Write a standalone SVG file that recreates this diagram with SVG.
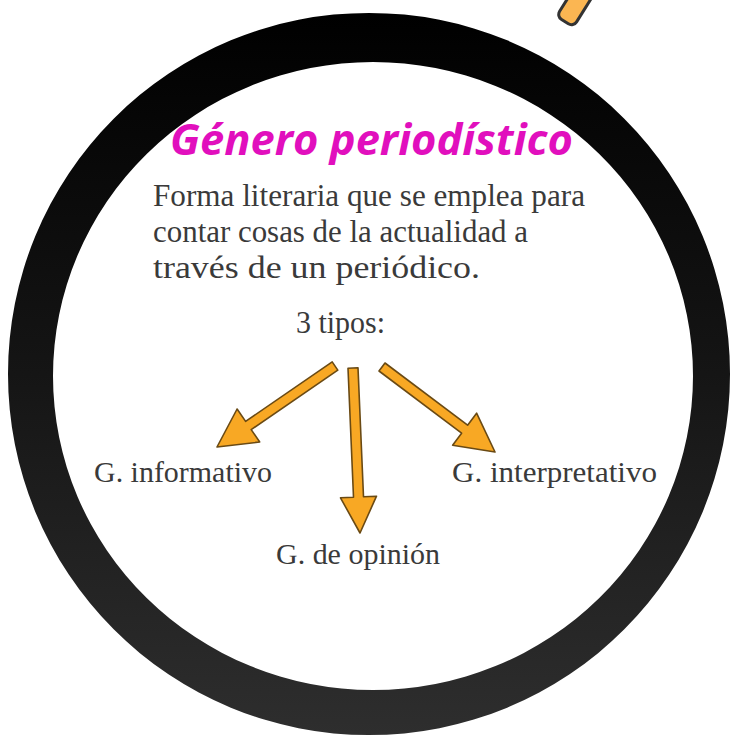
<svg xmlns="http://www.w3.org/2000/svg" width="732" height="736" viewBox="0 0 732 736">
  <defs>
    <linearGradient id="ringGrad" x1="0" y1="0" x2="0" y2="1">
      <stop offset="0" stop-color="#000000"/>
      <stop offset="0.5" stop-color="#151515"/>
      <stop offset="1" stop-color="#2e2e2e"/>
    </linearGradient>
  </defs>
  <style>
    .body { font-family: "Liberation Serif", "DejaVu Serif", serif; font-size: 31px; fill: #3a3a3a; }
    .label { font-family: "Liberation Serif", "DejaVu Serif", serif; font-size: 30px; fill: #3a3a3a; }
    .title { font-family: "Open Sans", "Noto Sans", sans-serif; font-size: 43px; font-weight: bold; font-style: italic; fill: #e10fbd; }
    .arrow { fill: #f8a824; stroke: #6a4a14; stroke-width: 1.6; stroke-linejoin: round; }
  </style>
  <rect width="732" height="736" fill="#ffffff"/>

  <g id="ring">
    <path fill="url(#ringGrad)" fill-rule="evenodd"
      d="M 8 374 A 361 361 0 1 0 730 374 A 361 361 0 1 0 8 374 Z
         M 53 376 A 320 314 0 1 1 693 376 A 320 314 0 1 1 53 376 Z"/>
  </g>

  <g id="pencil">
    <rect x="-2" y="-10" width="70" height="20" rx="6" fill="#fbb652" stroke="#333333" stroke-width="3" transform="translate(566,20) rotate(-58)"/>
  </g>

  <g id="title">
    <text class="title" x="170" y="155" textLength="403" lengthAdjust="spacingAndGlyphs">Género periodístico</text>
  </g>

  <g id="definition">
    <text class="body" x="153" y="206" textLength="432" lengthAdjust="spacingAndGlyphs">Forma literaria que se emplea para</text>
    <text class="body" x="153" y="242" textLength="375" lengthAdjust="spacingAndGlyphs">contar cosas de la actualidad a</text>
    <text class="body" x="153" y="278" textLength="327" lengthAdjust="spacingAndGlyphs">través de un periódico.</text>
  </g>

  <g id="tipos">
    <text class="body" x="296" y="333" textLength="89" lengthAdjust="spacingAndGlyphs">3 tipos:</text>
  </g>

  <g id="connectors">
    <polygon class="arrow" points="332.2,361.9 245.6,421.4 237.1,409.0 217,447 259.7,442.0 251.2,429.6 337.8,370.1"/>
    <polygon class="arrow" points="348.0,368.2 353.5,497.2 340.5,497.8 360,533 376.5,496.2 363.5,496.8 358.0,367.8"/>
    <polygon class="arrow" points="379.0,371.0 461.6,433.2 452.6,445.2 495,452 476.6,413.2 467.6,425.2 385.0,363.0"/>
  </g>

  <g id="informativo">
    <text class="label" x="94" y="482" textLength="178" lengthAdjust="spacingAndGlyphs">G. informativo</text>
  </g>
  <g id="opinion">
    <text class="label" x="276" y="564" textLength="164" lengthAdjust="spacingAndGlyphs">G. de opinión</text>
  </g>
  <g id="interpretativo">
    <text class="label" x="452" y="482" textLength="205" lengthAdjust="spacingAndGlyphs">G. interpretativo</text>
  </g>
</svg>
